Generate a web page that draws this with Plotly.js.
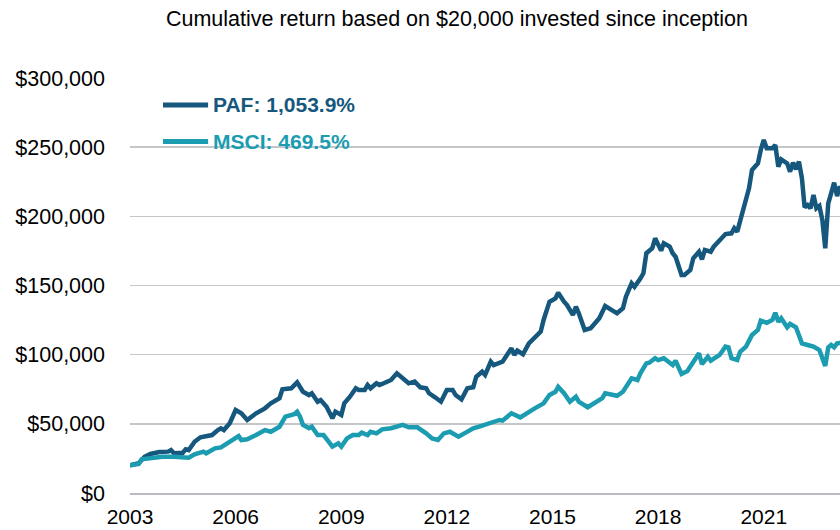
<!DOCTYPE html>
<html>
<head>
<meta charset="utf-8">
<script src="https://cdn.plot.ly/plotly-3.0.1.min.js"></script>
<style>html,body{margin:0;padding:0;background:#fff;}#chart{width:840px;height:530px;}</style>
</head>
<body>
<div id="chart"></div>
<script>
const chartTitle = 'Cumulative return based on $20,000 invested since inception';
const seriesNames = ['PAF: 1,053.9%', 'MSCI: 469.5%'];
const yTickVals = [0, 50000, 100000, 150000, 200000, 250000, 300000];
const xTickYears = ['2003','2006','2009','2012','2015','2018','2021'];

const pafDates = ['2003-01','2003-04','2003-06','2003-08','2003-11','2004-02','2004-03','2004-04','2004-07','2004-08','2004-09','2004-11',
'2005-01','2005-05','2005-07','2005-08','2005-09','2005-11','2006-01','2006-03','2006-05','2006-08','2006-11',
'2007-01','2007-04','2007-05','2007-08','2007-09','2007-10','2007-12','2008-02','2008-03','2008-05','2008-06','2008-08','2008-10','2008-11',
'2009-01','2009-02','2009-04','2009-06','2009-07','2009-09','2009-10','2009-11','2010-01','2010-02','2010-03','2010-06','2010-08','2010-10','2010-12',
'2011-02','2011-04','2011-06','2011-07','2011-09','2011-11','2012-01','2012-03','2012-04','2012-06','2012-08','2012-10','2012-11',
'2013-01','2013-02','2013-04','2013-05','2013-08','2013-11','2013-12','2014-01','2014-03','2014-05','2014-08','2014-09','2014-10','2014-12',
'2015-02','2015-03','2015-05','2015-06','2015-08','2015-09','2015-10','2015-12','2016-02','2016-04','2016-05','2016-07','2016-09','2016-11',
'2017-01','2017-02','2017-04','2017-05','2017-07','2017-08','2017-09','2017-11','2017-12','2018-01','2018-02','2018-03','2018-05','2018-06','2018-07','2018-09','2018-10','2018-12',
'2019-01','2019-03','2019-04','2019-05','2019-07','2019-08','2019-11','2019-12','2020-02','2020-03','2020-04','2020-06','2020-07','2020-08','2020-09','2020-11','2020-12',
'2021-01','2021-02','2021-04','2021-05','2021-06','2021-07','2021-09','2021-10','2021-11','2021-12','2022-01','2022-02','2022-03','2022-04','2022-05','2022-06','2022-07','2022-08','2022-09','2022-10','2022-11','2022-12',
'2023-01','2023-02','2023-03','2023-04'];
const pafValues = [20000,21500,26200,28200,29600,29900,31000,28700,29100,31600,31000,37000,
40300,41900,45500,46800,45500,50400,60000,57600,52800,57600,61200,
64800,68500,75000,75700,77400,80000,73200,70800,72100,66000,67200,62400,54000,58800,
56400,64800,69600,75700,74500,74500,78100,75700,79300,78100,78800,81700,86500,82900,79300,
80500,76400,75700,72100,69200,66000,74500,74500,70800,67700,75700,76400,84100,
87700,85300,94900,92500,94900,104600,99800,102900,100300,108200,114900,116600,125100,138300,
140700,144800,138300,135900,128700,134700,129900,117800,119100,123800,126300,135200,132300,129900,
133500,141900,151600,149100,155000,158800,173300,176900,184100,179300,175200,180500,178100,173300,170800,157600,157600,161200,
169700,174400,168900,175700,174400,178100,185300,187200,187700,191400,188900,204600,213000,220300,233500,238300,248000,
255200,249200,249200,251600,235900,241200,238300,232300,238800,234000,239500,227500,206500,208200,205800,215400,205800,207500,197300,176900,209400,216600,
224300,214700,221400,219000];

const msciDates = ['2003-01','2003-04','2003-05','2003-08','2003-12','2004-04','2004-07','2004-09','2004-11',
'2005-02','2005-03','2005-06','2005-08','2005-11','2006-02','2006-03','2006-05','2006-08','2006-11',
'2007-01','2007-04','2007-06','2007-09','2007-10','2007-11','2007-12','2008-02','2008-03','2008-05','2008-07','2008-09','2008-10','2008-12',
'2009-01','2009-03','2009-05','2009-07','2009-08','2009-10','2009-11','2010-01','2010-03','2010-06','2010-08','2010-10','2010-12',
'2011-03','2011-06','2011-08','2011-10','2011-12','2012-02','2012-05','2012-07','2012-10','2012-12',
'2013-04','2013-07','2013-08','2013-11','2014-02','2014-05','2014-07','2014-10','2014-12',
'2015-02','2015-03','2015-05','2015-07','2015-09','2015-10','2016-01','2016-04','2016-06','2016-07','2016-11',
'2017-01','2017-04','2017-06','2017-07','2017-09','2017-10','2017-12','2018-01','2018-03','2018-06','2018-07','2018-09','2018-11',
'2019-01','2019-03','2019-04','2019-06','2019-07','2019-10','2019-12','2020-01','2020-02','2020-04','2020-05','2020-07','2020-09','2020-11','2020-12',
'2021-02','2021-04','2021-05','2021-06','2021-07','2021-09','2021-10','2021-12','2022-02','2022-04','2022-06','2022-08','2022-10','2022-11','2022-12',
'2023-01','2023-02','2023-03','2023-04'];
const msciValues = [20000,21000,24400,25100,26200,26200,26200,25500,28000,
29900,28700,32300,33000,37100,41200,38300,38800,41900,45500,
44300,47900,55200,57000,58800,55000,49200,46800,47900,41900,41900,35900,33500,35900,
33500,39500,41900,41900,43600,41900,44300,43100,46000,46800,47900,49200,47500,
47500,43100,39500,38300,43100,44300,40700,43100,46800,48000,
50800,52800,52300,57600,54700,58800,61200,64800,70800,
73200,76800,72100,66000,69600,66000,62000,66000,68500,72100,70300,
73200,82900,81700,86500,93700,94200,97400,96100,97400,92500,95600,86000,88200,
94900,101000,93200,98500,95600,99800,105800,105300,97400,96100,102100,105800,114200,117800,124600,
123100,125100,130300,123800,126300,119800,122200,119800,108200,107000,105800,103400,91800,105300,107000,
105300,108200,108500,109400];

const pafColor = '#16587d';
const msciColor = '#1b9cb0';
const fontFam = '"Liberation Sans", Arial, sans-serif';

const traces = [
  {x: pafDates, y: pafValues, type: 'scatter', mode: 'lines', name: seriesNames[0],
   line: {color: pafColor, width: 4.5}, hoverinfo: 'skip'},
  {x: msciDates, y: msciValues, type: 'scatter', mode: 'lines', name: seriesNames[1],
   line: {color: msciColor, width: 4.5}, hoverinfo: 'skip'}
];

const legendY = [0.935, 0.847];
const legendColors = [pafColor, msciColor];

const layout = {
  width: 840, height: 530,
  margin: {l: 130, r: 0, t: 78, b: 37},
  paper_bgcolor: '#ffffff', plot_bgcolor: '#ffffff',
  font: {family: fontFam, size: 21, color: '#000000'},
  showlegend: false,
  title: {text: chartTitle, font: {family: fontFam, size: 21.5, color: '#000000'},
          xref: 'container', yref: 'container', x: 0.544, xanchor: 'center', y: 0.965, yanchor: 'middle'},
  xaxis: {type: 'date', range: ['2003-01-01', '2023-03-03'],
          tickmode: 'array', tickvals: xTickYears.map(y => y + '-01-01'), ticktext: xTickYears,
          showgrid: false, zeroline: false, showline: true, linecolor: '#b8bcc2', linewidth: 2,
          ticks: '', ticklabelstandoff: 4, automargin: false,
          tickfont: {family: fontFam, size: 21, color: '#000000'}},
  yaxis: {range: [0, 300000], tickmode: 'array', tickvals: yTickVals,
          ticktext: yTickVals.map(v => '$' + v.toLocaleString('en-US')),
          showgrid: true, gridcolor: '#c4c6ca', gridwidth: 1.6, zeroline: false, showline: false,
          ticks: '', ticklabelstandoff: 24, automargin: false,
          tickfont: {family: fontFam, size: 21.5, color: '#000000'}},
  shapes: legendY.map((yy, i) => ({type: 'line', xref: 'paper', yref: 'paper',
          x0: 0.0465, x1: 0.110, y0: yy, y1: yy, line: {color: legendColors[i], width: 5}})),
  annotations: legendY.map((yy, i) => ({xref: 'paper', yref: 'paper', x: 0.1145, y: yy,
          xanchor: 'left', yanchor: 'middle', showarrow: false, text: '<b>' + seriesNames[i] + '</b>',
          font: {family: fontFam, size: 21, color: legendColors[i]}}))
};

Plotly.newPlot('chart', traces, layout, {staticPlot: true, displayModeBar: false});
</script>
</body>
</html>
